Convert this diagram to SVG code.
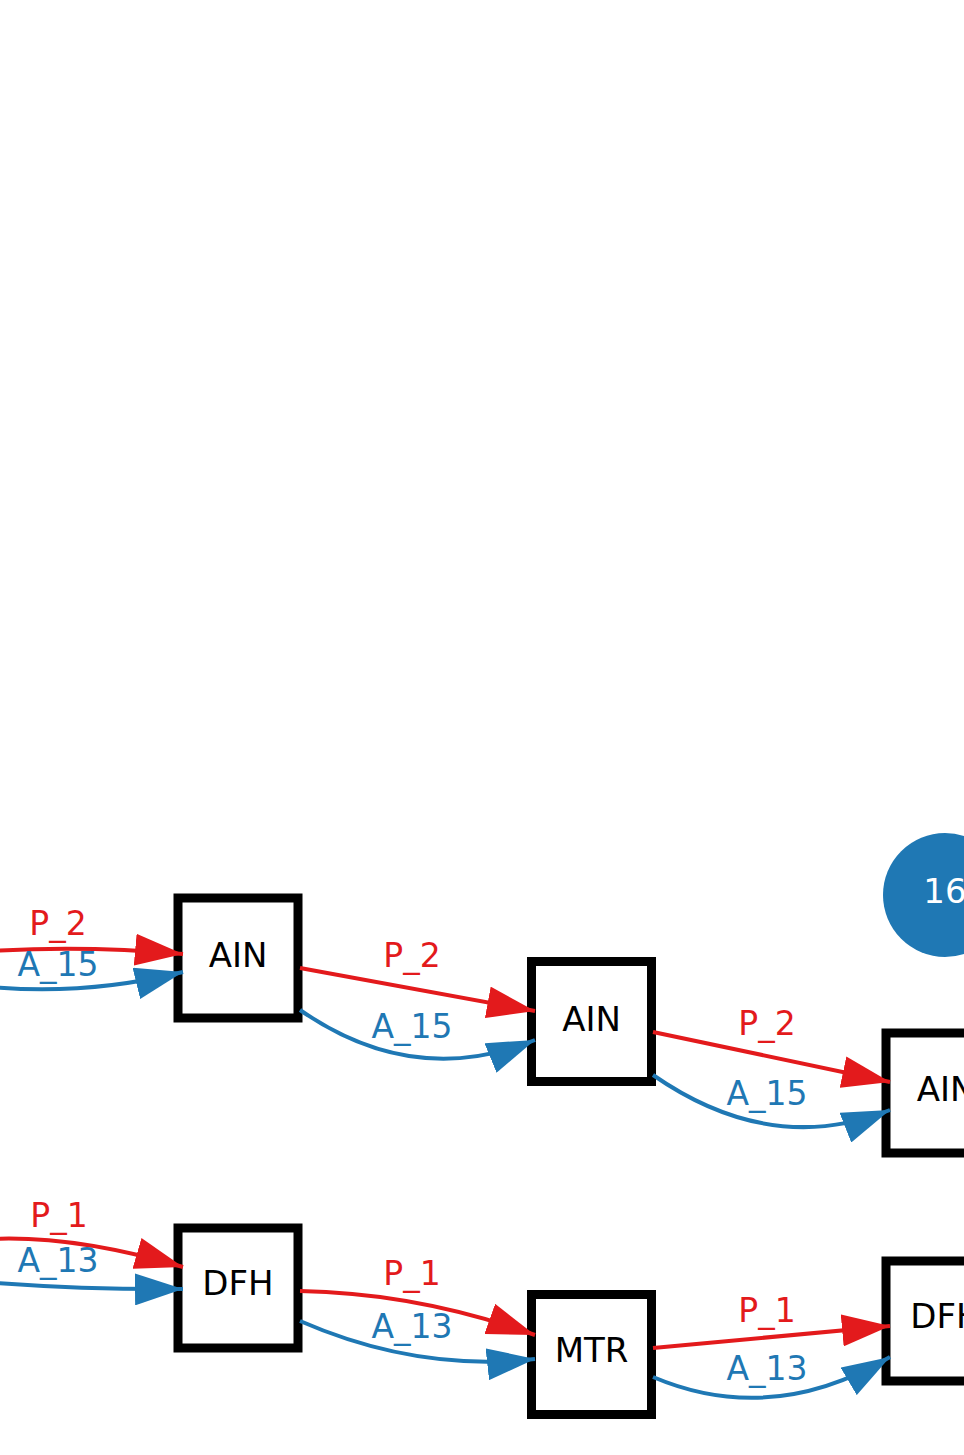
<svg xmlns="http://www.w3.org/2000/svg" width="964" height="1455" viewBox="0 0 964 1455">
<style>
.box{fill:#ffffff;stroke:#000000;stroke-width:9}
.nt{font-family:"DejaVu Sans",sans-serif;font-size:34px;fill:#000000;text-anchor:middle}
.ct{font-family:"DejaVu Sans",sans-serif;font-size:34px;fill:#ffffff;text-anchor:middle}
.er{fill:none;stroke:#e31a1c;stroke-width:4;marker-end:url(#ar)}
.eb{fill:none;stroke:#1f78b4;stroke-width:4;marker-end:url(#ab)}
.lr{font-family:"DejaVu Sans",sans-serif;font-size:33px;fill:#e31a1c;text-anchor:middle}
.lb{font-family:"DejaVu Sans",sans-serif;font-size:33px;fill:#1f78b4;text-anchor:middle}
</style>
<defs>
<marker id="ar" viewBox="0 0 48 32" refX="48" refY="16" markerWidth="48" markerHeight="32" markerUnits="userSpaceOnUse" orient="auto"><path d="M0,0 L48,16 L0,32 z" fill="#e31a1c"/></marker>
<marker id="ab" viewBox="0 0 48 32" refX="48" refY="16" markerWidth="48" markerHeight="32" markerUnits="userSpaceOnUse" orient="auto"><path d="M0,0 L48,16 L0,32 z" fill="#1f78b4"/></marker>
</defs>
<rect width="964" height="1455" fill="#ffffff"/>
<g id="node-16"><circle cx="945" cy="895" r="62" fill="#1f78b4"/><text class="ct" x="945" y="903">16</text></g>
<g id="node-ain1"><rect class="box" x="178" y="898" width="120" height="120"/><text class="nt" x="238" y="967">AIN</text></g>
<g id="node-ain2"><rect class="box" x="531.5" y="961.5" width="120" height="120"/><text class="nt" x="591.5" y="1031">AIN</text></g>
<g id="node-ain3"><rect class="box" x="886" y="1033" width="120" height="120"/><text class="nt" x="946" y="1101">AIN</text></g>
<g id="node-dfh1"><rect class="box" x="178" y="1228" width="120" height="120"/><text class="nt" x="238" y="1295">DFH</text></g>
<g id="node-mtr"><rect class="box" x="531.5" y="1294.5" width="120" height="120"/><text class="nt" x="591.5" y="1362">MTR</text></g>
<g id="node-dfh2"><rect class="box" x="886" y="1261" width="120" height="120"/><text class="nt" x="946" y="1328">DFH</text></g>
<g id="edges">
<path class="er" d="M-60,955 Q60,943 183,954"/>
<path class="eb" d="M-60,980 Q60,1002 183,972"/>
<path class="er" d="M300,968 L535,1011"/>
<path class="eb" d="M300,1010 Q414,1089 535,1040"/>
<path class="er" d="M653,1032 L890,1082"/>
<path class="eb" d="M653,1075 Q771,1157 890,1110"/>
<path class="er" d="M-60,1245 Q40,1225 183,1267"/>
<path class="eb" d="M-60,1278 Q60,1290 183,1289"/>
<path class="er" d="M300,1291 Q417,1293 535,1335"/>
<path class="eb" d="M300,1321 Q417,1372 535,1359"/>
<path class="er" d="M653,1348 L890,1326"/>
<path class="eb" d="M653,1377 Q771,1427 890,1357"/>
</g>
<g id="edge-labels">
<text class="lr" x="58" y="935">P_2</text>
<text class="lb" x="58" y="976">A_15</text>
<text class="lr" x="412" y="967">P_2</text>
<text class="lb" x="412" y="1038">A_15</text>
<text class="lr" x="767" y="1035">P_2</text>
<text class="lb" x="767" y="1105">A_15</text>
<text class="lr" x="59" y="1227">P_1</text>
<text class="lb" x="58" y="1272">A_13</text>
<text class="lr" x="412" y="1285">P_1</text>
<text class="lb" x="412" y="1338">A_13</text>
<text class="lr" x="767" y="1322">P_1</text>
<text class="lb" x="767" y="1380">A_13</text>
</g>
</svg>
